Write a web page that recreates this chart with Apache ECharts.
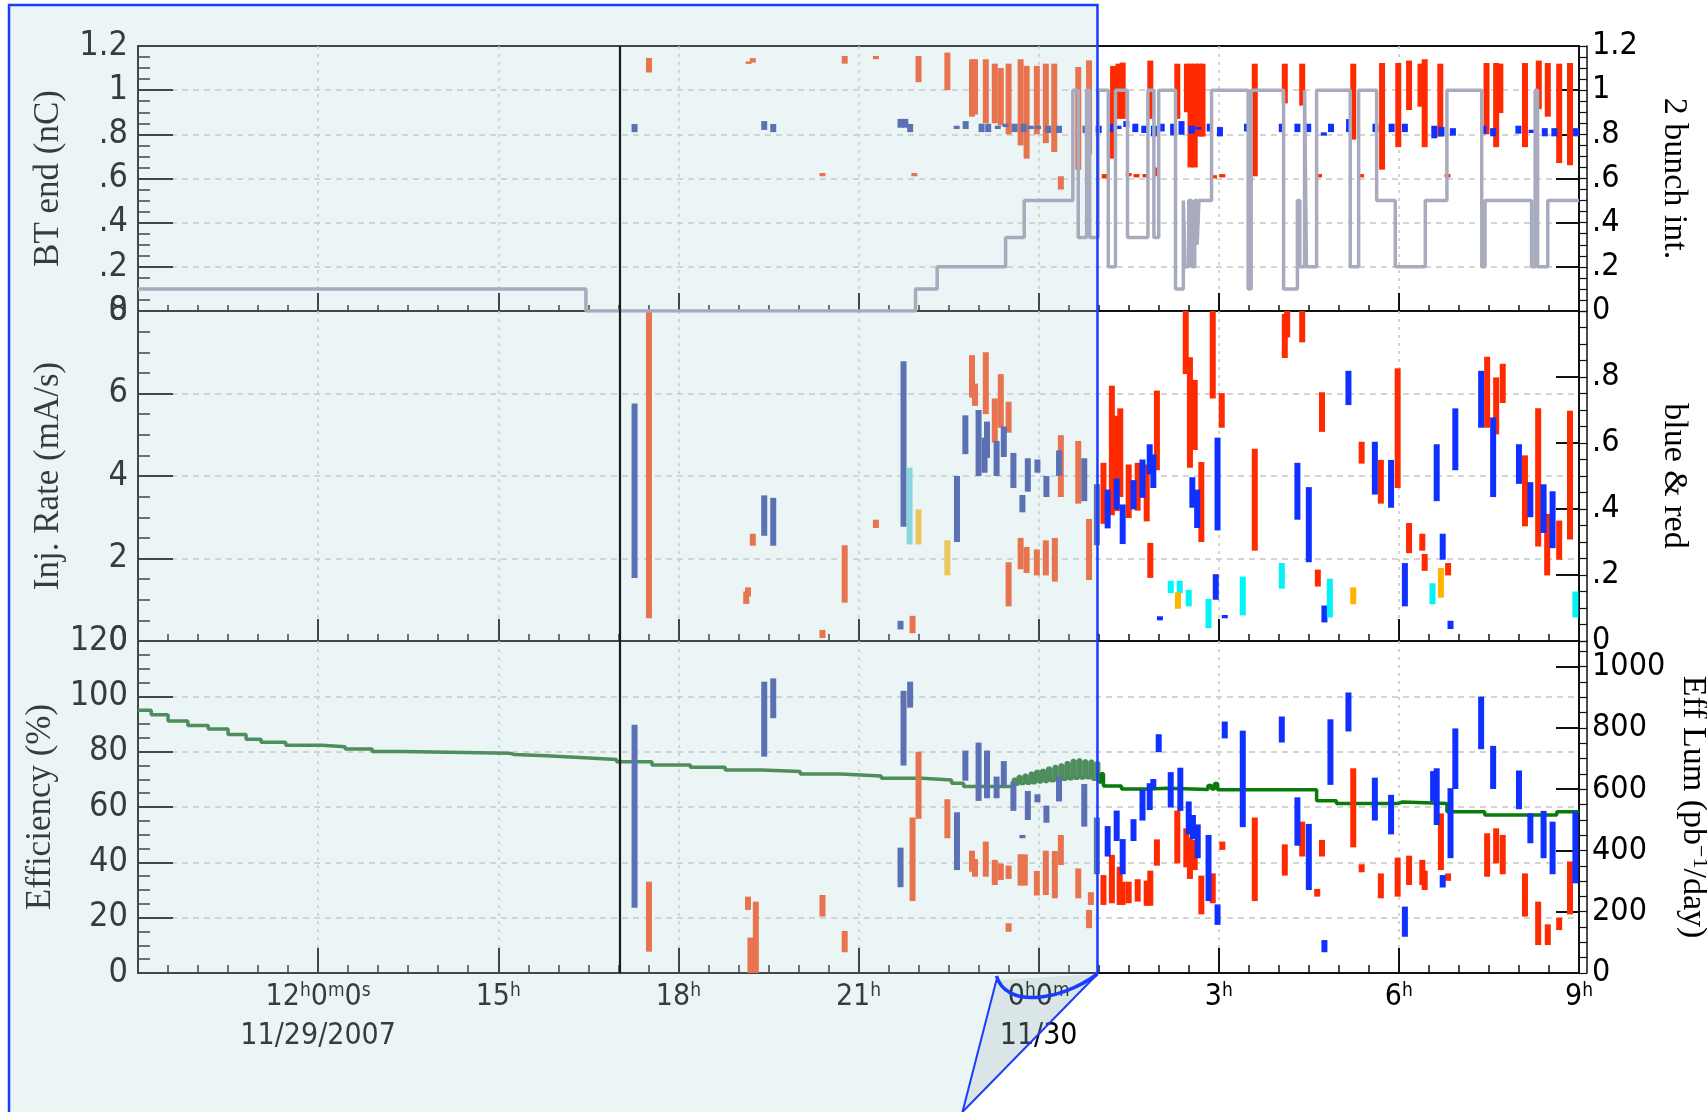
<!DOCTYPE html>
<html><head><meta charset="utf-8">
<script src="https://cdn.jsdelivr.net/npm/echarts@6/dist/echarts.min.js"></script>
<style>html,body{margin:0;padding:0;background:#fff;}#c{width:1707px;height:1112px;}</style>
</head><body><div id="c"></div>
<script>
// ---------- DATA (hours since 0h of 11/29/2007; 24 = 0h 11/30) ----------
const BOUNDARY = 24.98;          // start of the zoomed (bright) region
const markerHours = [17.02];     // black vertical marker

const tickHours = [12, 15, 18, 21, 24, 27, 30, 33];
const tickLabels = ['{n|12}{s|h}{n|0}{s|m}{n|0}{s|s}', '{n|15}{s|h}', '{n|18}{s|h}', '{n|21}{s|h}',
                    '{n|0}{s|h}{n|0}{s|m}', '{n|3}{s|h}', '{n|6}{s|h}', '{n|9}{s|h}'];
const dateLabels = ['11/29/2007', '', '', '', '11/30', '', '', ''];

// top panel: BT end (nC)   [hour, low, high]
const topRed = [
 [17.51,1.08,1.146],[19.17,1.12,1.13],[19.24,1.125,1.145],[20.40,0.61,0.625],[20.77,1.12,1.155],
 [21.29,1.14,1.155],[21.93,0.61,0.625],[22.0,1.036,1.155],[22.48,1.0,1.17],[22.89,0.88,1.14],
 [22.94,0.89,1.14],[23.12,0.85,1.14],[23.27,0.85,1.12],[23.37,0.84,1.10],[23.5,0.80,1.12],
 [23.7,0.75,1.14],[23.8,0.69,1.11],[23.97,0.80,1.11],[24.12,0.76,1.12],[24.26,0.72,1.12],
 [24.37,0.55,0.61],[24.66,0.64,1.105],[24.84,0.71,1.135],[25.1,0.60,0.62],[25.24,0.69,1.11],
 [25.33,0.87,1.12],[25.4,0.87,1.125],[25.5,0.61,0.625],[25.63,0.605,0.62],[25.78,0.605,0.62],
 [25.86,0.87,1.134],[25.97,0.61,0.65],[26.31,0.87,1.12],[26.47,0.90,1.12],[26.53,0.65,1.12],
 [26.6,0.65,1.12],[26.67,0.79,1.12],[26.73,0.79,1.12],[26.92,0.60,0.615],[27.06,0.605,0.62],
 [27.6,0.61,1.12],[28.1,0.94,1.12],[28.39,0.93,1.12],[28.67,0.605,0.62],[29.24,0.776,1.12],
 [29.37,0.605,0.62],[29.72,0.64,1.123],[29.99,0.742,1.123],[30.17,0.91,1.134],[30.36,0.925,1.12],
 [30.43,0.742,1.14],[30.69,0.79,1.12],[30.81,0.605,0.62],[31.46,0.80,1.123],[31.62,0.742,1.123],
 [31.69,0.896,1.12],[32.1,0.742,1.123],[32.33,0.914,1.134],[32.48,0.88,1.123],[32.67,0.67,1.12],
 [32.85,0.66,1.123]
];
const topBlue = [
 [17.27,0.81,0.847],[19.43,0.82,0.86],[19.58,0.81,0.847],[21.7,0.83,0.87],[21.78,0.83,0.87],[21.86,0.81,0.847],
 [22.635,0.824,0.839],[22.785,0.824,0.86],[23.05,0.81,0.848],[23.16,0.81,0.848],[23.32,0.824,0.839],
 [23.45,0.833,0.848],[23.6,0.81,0.848],[23.75,0.81,0.848],[23.87,0.824,0.839],[23.99,0.824,0.839],
 [24.16,0.806,0.839],[24.34,0.806,0.839],[24.78,0.806,0.839],[25.0,0.806,0.839],[25.19,0.81,0.848],
 [25.33,0.824,0.839],[25.46,0.833,0.86],[25.61,0.81,0.848],[25.76,0.806,0.839],[25.92,0.791,0.839],
 [26.05,0.813,0.848],[26.24,0.795,0.848],[26.38,0.798,0.86],[26.55,0.803,0.839],[26.66,0.821,0.833],
 [26.85,0.813,0.848],[27.02,0.791,0.833],[27.47,0.813,0.848],[28.05,0.81,0.848],[28.31,0.81,0.848],
 [28.49,0.81,0.848],[28.75,0.794,0.809],[28.87,0.81,0.848],[29.17,0.81,0.869],[29.61,0.81,0.848],
 [29.88,0.81,0.848],[30.1,0.81,0.848],[30.59,0.782,0.839],[30.71,0.791,0.833],[30.9,0.794,0.828],
 [31.41,0.803,0.839],[31.57,0.791,0.828],[31.99,0.803,0.839],[32.21,0.806,0.821],[32.43,0.791,0.828],
 [32.59,0.791,0.828],[32.95,0.791,0.828]
];
// 2 bunch int. (step line, right axis of top panel)   [hour, value]
const bunchInt = [
 [9,0.1],[16.46,0.0],[21.95,0.1],[22.31,0.2],[23.45,0.333],[23.76,0.5],[24.57,1.0],[24.66,0.333],
 [24.8,1.0],[24.85,0.333],[24.99,1.0],[25.16,0.2],[25.28,1.0],[25.48,0.333],[25.82,1.0],[25.92,0.333],
 [26.0,1.0],[26.28,0.1],[26.41,0.5],[26.44,0.2],[26.5,0.5],[26.55,0.2],[26.6,0.5],[26.64,0.3],
 [26.67,0.5],[26.88,1.0],[27.49,0.1],[27.54,1.0],[28.08,0.1],[28.31,0.5],[28.35,0.2],[28.43,1.0],
 [28.46,0.2],[28.63,1.0],[29.19,0.2],[29.33,1.0],[29.63,0.5],[29.94,0.2],[30.44,0.5],[30.8,1.0],
 [31.38,0.2],[31.435,0.5],[32.21,0.2],[32.27,1.0],[32.31,0.2],[32.48,0.5],[33,0.5]
];

// middle panel: Inj. Rate (mA/s)   [hour, low, high]
const midRed = [
 [17.51,0.55,8.0],[19.13,0.9,1.2],[19.16,1.08,1.3],[19.24,2.31,2.6],[20.40,0.07,0.27],[20.77,0.93,2.32],
 [21.29,2.74,2.94],[21.9,0.19,0.61],[22.89,5.9,6.93],[22.94,5.7,6.24],[23.12,5.5,7.0],[23.27,4.81,5.88],
 [23.37,5.17,6.47],[23.5,5.05,5.8],[23.5,0.84,1.91],[23.7,1.74,2.5],[23.8,1.65,2.28],[23.97,1.59,2.22],
 [24.12,1.59,2.44],[24.27,1.44,2.5],[24.37,3.49,4.99],[24.66,3.33,4.85],[24.84,1.48,2.96],[25.08,2.84,4.32],
 [25.22,3.05,6.19],[25.3,3.15,5.46],[25.36,3.49,5.64],[25.5,2.98,4.28],[25.65,3.16,4.32],[25.8,2.9,4.28],
 [25.86,1.53,2.38],[25.97,4.14,6.07],[26.45,6.47,8.0],[26.52,4.2,6.88],[26.6,4.63,6.33],[26.71,2.4,4.34],
 [26.9,5.88,8.0],[27.05,5.17,6.01],[27.6,2.19,4.66],[28.1,6.86,7.93],[28.14,7.36,8.0],[28.39,7.24,8.0],
 [28.65,1.32,1.73],[28.72,5.07,6.03],[29.38,4.3,4.83],[29.7,3.33,4.39],[29.98,3.71,6.61],[30.17,2.13,2.86],
 [30.39,2.19,2.6],[30.43,1.7,2.11],[30.82,1.59,1.89],[31.47,5.17,6.89],[31.62,5.01,6.39],[31.73,5.77,6.72],
 [32.1,2.78,4.5],[32.32,2.29,5.64],[32.47,1.59,3.08],[32.67,1.97,2.92],[32.85,2.46,5.58]
];
const midBlue = [
 [17.27,1.53,5.76],[19.43,2.55,3.53],[19.58,2.31,3.47],[21.7,0.28,0.49],[21.75,2.77,6.78],[22.64,2.4,4.0],
 [22.78,4.53,5.47],[23.0,4.0,5.6],[23.1,4.08,4.93],[23.14,4.44,5.32],[23.3,4.0,4.85],[23.42,4.46,5.2],
 [23.58,3.71,4.56],[23.73,3.12,3.54],[23.82,3.62,4.43],[23.98,4.08,4.4],[24.13,3.49,4.0],[24.34,4.0,4.62],
 [24.76,3.39,4.43],[24.97,2.32,3.8],[25.15,2.73,3.67],[25.3,3.19,3.94],[25.4,2.35,3.31],[25.58,3.19,3.9],
 [25.73,3.47,4.4],[25.85,4.04,4.77],[25.91,3.71,4.52],[26.02,0.5,0.6],[26.56,3.23,3.97],[26.64,2.74,3.67],
 [26.95,1.0,1.62],[26.98,2.68,4.93],[27.1,0.55,0.63],[28.31,2.94,4.32],[28.5,1.91,3.73],[28.76,0.45,0.86],
 [29.16,5.72,6.55],[29.6,3.55,4.83],[29.87,3.23,4.39],[30.1,0.84,1.89],[30.63,3.39,4.77],[30.73,1.97,2.6],
 [30.86,0.29,0.49],[30.94,4.14,5.64],[31.37,5.17,6.55],[31.57,3.49,5.42],[32.0,3.81,4.77],[32.19,3.0,3.85],
 [32.41,2.62,3.8],[32.56,2.25,3.63]
];
const midCyan = [
 [21.85,2.34,4.2],[26.2,1.16,1.46],[26.35,1.16,1.46],[26.5,0.84,1.24],[26.83,0.31,1.02],[27.4,0.62,1.56],
 [28.05,1.27,1.89],[28.85,0.57,1.51],[30.56,0.89,1.4],[32.94,0.57,1.2]
];
const midOrange = [
 [22.0,2.34,3.19],[22.48,1.59,2.44],[26.32,0.78,1.18],[29.24,0.89,1.3],[30.7,1.05,1.77]
];

// bottom panel: Efficiency (%)   [hour, low, high]
const botRed = [
 [17.51,7.7,33.0],[19.16,22.8,27.6],[19.2,0,12.8],[19.29,0,25.8],[20.40,20.4,28.2],[20.77,7.5,15.2],
 [21.9,26.0,56.2],[22.0,55.7,80.0],[22.48,48.7,62.8],[22.89,36.6,44.2],[22.94,34.8,41.2],[23.12,34.8,47.5],
 [23.27,31.8,40.9],[23.37,33.6,39.6],[23.5,34.0,38.8],[23.5,14.9,18.0],[23.7,31.6,42.9],[23.77,31.6,42.9],
 [23.97,28.0,36.9],[24.12,28.2,44.2],[24.27,27.0,44.1],[24.37,39.0,49.9],[24.66,27.0,37.8],[24.87,24.6,29.2],
 [24.84,16.2,22.8],[25.08,24.6,35.4],[25.22,25.2,42.7],[25.35,24.6,38.4],[25.4,24.6,33.0],[25.5,25.2,33.0],
 [25.65,25.8,33.9],[25.8,24.3,33.4],[25.86,24.3,37.0],[25.97,38.8,48.3],[26.31,39.6,58.7],[26.46,38.2,52.3],
 [26.52,34.0,48.9],[26.6,37.2,48.1],[26.71,21.2,35.2],[26.9,25.2,36.0],[27.06,44.5,47.5],[27.6,26.0,56.2],
 [28.1,35.2,46.5],[28.39,42.1,54.7],[28.64,27.6,30.4],[28.72,42.1,48.1],[29.24,45.4,74.0],[29.38,36.4,39.3],
 [29.7,27.0,36.0],[29.98,27.6,41.7],[30.17,31.8,42.4],[30.39,31.8,40.9],[30.43,30.0,37.0],[30.7,37.2,57.7],
 [30.82,33.3,36.0],[31.47,34.8,50.5],[31.62,39.6,52.3],[31.73,35.7,49.9],[32.1,20.4,36.0],[32.32,10.1,25.8],
 [32.48,10.1,17.6],[32.67,15.5,20.0],[32.85,21.2,40.3]
];
const botBlue = [
 [17.27,23.6,89.7],[19.43,78.2,105.3],[19.58,92.1,106.5],[21.7,31.0,45.3],[21.75,75.0,102.0],[21.86,95.9,105.3],
 [22.64,37.2,58.1],[22.78,69.5,80.4],[23.0,62.2,83.3],[23.14,63.15,80.4],[23.3,63.15,71.0],[23.42,67.7,76.6],
 [23.58,58.6,69.2],[23.73,48.7,49.9],[23.82,55.3,65.8],[23.98,61.7,64.6],[24.13,54.3,60.5],[24.34,62.0,71.0],
 [24.76,52.9,68.3],[24.97,35.7,56.2],[25.15,42.1,53.1],[25.3,47.7,58.7],[25.4,35.7,48.4],[25.58,47.7,55.6],
 [25.73,55.1,66.2],[25.85,58.9,68.6],[25.91,66.5,70.1],[26.0,79.8,86.3],[26.2,59.8,72.6],[26.36,58.6,74.2],
 [26.5,50.1,62.0],[26.57,48.4,57.1],[26.65,41.5,53.7],[26.83,26.0,49.9],[26.98,17.4,24.8],[27.1,84.8,90.9],
 [27.4,52.7,87.6],[28.05,83.3,92.7],[28.31,46.0,63.5],[28.5,30.0,53.9],[28.76,7.5,11.9],[28.86,68.0,91.7],
 [29.16,87.3,101.4],[29.6,55.1,70.6],[29.87,50.1,64.4],[30.1,13.1,24.0],[30.57,62.0,73.0],[30.63,53.5,74.0],
 [30.73,30.9,35.4],[30.86,41.5,66.8],[30.94,66.5,88.4],[31.37,80.9,99.9],[31.57,66.5,82.1],[32.0,59.2,73.2],
 [32.19,46.9,57.7],[32.41,41.5,58.6],[32.56,35.7,54.7],[32.94,32.4,58.3]
];
// efficiency curve (step line)   [hour, %]
const effLine = [
 [9.0,95.0],[9.22,93.3],[9.5,91.1],[9.83,89.5],[10.17,88.2],[10.5,86.2],[10.8,84.5],[11.05,83.4],[11.46,82.3],
 [12.07,81.8],[12.45,81.0],[12.9,80.1],[13.4,79.4],[15.2,79.0],[15.27,78.5],[15.8,77.9],[16.35,77.2],
 [16.97,76.4],[17.56,75.2],[18.2,74.4],[18.78,73.4],[19.39,72.8],[20.03,71.9],[20.7,71.2],[21.38,70.4],
 [22.06,69.8],[22.55,68.6],[22.75,67.4],[23.58,70.0],[23.62,68.2],[23.66,71.0],[23.7,68.5],[23.76,71.5],
 [23.8,68.6],[23.86,72.2],[23.9,68.8],[23.95,72.8],[24.0,69.0],[24.05,73.2],[24.1,69.2],[24.15,74.0],
 [24.2,69.5],[24.26,74.6],[24.3,69.6],[24.36,75.2],[24.4,70.0],[24.46,76.0],[24.5,70.2],[24.56,76.8],
 [24.6,70.4],[24.66,77.0],[24.7,70.5],[24.76,76.6],[24.8,70.6],[24.86,76.5],[24.9,70.0],[24.96,76.0],
 [25.0,69.0],[25.04,72.0],[25.08,67.6],[25.38,66.5],[25.83,66.8],[26.16,66.3],[26.82,67.8],[26.88,66.5],
 [26.93,68.5],[26.98,66.2],[28.63,62.3],[28.96,61.3],[29.99,61.8],[30.06,61.3],[30.8,58.3],[31.43,57.1],
 [32.63,58.3],[33.0,58.3]
];

// ---------- STYLE ----------
const NARROW = '"Liberation Sans Narrow","Arial Narrow","DejaVu Sans Condensed","Liberation Sans",sans-serif';
const SERIF = '"Liberation Serif","DejaVu Serif",serif';
const COL = {
  red:    ['#ff2a00', '#e8734f'],
  blue:   ['#1030ff', '#5c70b4'],
  cyan:   ['#00f4f8', '#8ad6de'],
  orange: ['#ffb400', '#ebc65e'],
  green:  ['#0a7a0a', '#4f8d5c']
};
const GRIDS = [
  {left:138, right:128, top:46,  height:265},
  {left:138, right:128, top:311, height:330},
  {left:138, right:128, top:641, height:332}
];
const dashH = {color:'#c6c8c4', type:[6,5], width:1.5};
const dashV = {color:'#c6c8c4', type:[3,5], width:1.5};

function fmtNum(v){
  const r = Math.round(v*1000)/1000;
  return String(r).replace(/^0\./, '.');
}

const xAxes = [0,1,2].map(i => ({
  type:'value', gridIndex:i, min:9, max:33, interval:3,
  axisLine:{show:false},
  axisTick:{show:true, inside:true, length:[18,22,25][i], lineStyle:{color:'#111', width:2}},
  minorTick:{show:true, splitNumber:6, length:[6,7,8][i], lineStyle:{color:'#111', width:1.5}},
  splitLine:{show:true, showMinLine:false, showMaxLine:false, lineStyle:dashV},
  axisLabel: i === 2 ? {
    show:true, margin:9, color:'#000', fontFamily:NARROW, fontSize:30,
    showMinLabel:false,
    formatter: function(v){
      const k = tickHours.indexOf(Math.round(v));
      if (k < 0) return '';
      let s = tickLabels[k];
      if (dateLabels[k]) s += '\n{d|' + dateLabels[k] + '}';
      return s;
    },
    rich:{
      n:{fontFamily:NARROW, fontSize:30, color:'#000', verticalAlign:'bottom', lineHeight:30},
      s:{fontFamily:NARROW, fontSize:19, color:'#000', verticalAlign:'top', lineHeight:19, padding:[0,0,19,0]},
      d:{fontFamily:NARROW, fontSize:30, color:'#000', lineHeight:48}
    }
  } : {show:false}
}));

function leftY(gi, min, max, interval, name){
  return {
    type:'value', gridIndex:gi, position:'left', min:min, max:max, interval:interval,
    axisLine:{show:false},
    axisTick:{show:true, inside:true, length:35, lineStyle:{color:'#111', width:2}},
    minorTick:{show:true, splitNumber:4, length:12, lineStyle:{color:'#111', width:1.5}},
    splitLine:{show:true, showMinLine:false, showMaxLine:false, lineStyle:dashH},
    axisLabel:{show:true, margin:10, color:'#000', fontFamily:NARROW, fontSize:34, formatter:fmtNum},
    name:name, nameLocation:'middle', nameRotate:90, nameGap:72,
    nameTextStyle:{fontFamily:SERIF, fontSize:35, color:'#000'}
  };
}
function rightY(gi, min, max, interval, name, showMax){
  return {
    type:'value', gridIndex:gi, position:'right', min:min, max:max, interval:interval,
    axisLine:{show:false},
    axisTick:{show:true, inside:true, length:23, lineStyle:{color:'#111', width:2}},
    minorTick:{show:false},
    splitLine:{show:false},
    axisLabel:{show:true, margin:13, color:'#000', fontFamily:NARROW, fontSize:32, formatter:fmtNum, showMaxLabel:showMax},
    name:name, nameLocation:'middle', nameRotate:-90, nameGap:78,
    nameTextStyle:{fontFamily:SERIF, fontSize:34, color:'#000',
      rich:{sup:{fontFamily:SERIF, fontSize:22, color:'#000', verticalAlign:'top', padding:[0,0,14,0]}, t:{fontFamily:SERIF, fontSize:34, color:'#000'}}}
  };
}
function ladderY(gi, min, max, step){
  return {
    type:'value', gridIndex:gi, position:'right', offset:0, min:min, max:max, interval:step,
    axisLine:{show:false}, axisLabel:{show:false}, splitLine:{show:false},
    axisTick:{show:true, inside:false, length:8, lineStyle:{color:'#111', width:1.2}}
  };
}
function railY(gi, min, max){
  return {
    type:'value', gridIndex:gi, position:'right', offset:8, min:min, max:max,
    axisLine:{show:true, lineStyle:{color:'#111', width:1.5}}, axisLabel:{show:false},
    splitLine:{show:false}, axisTick:{show:false}
  };
}

const yAxes = [
  leftY(0, 0, 1.2, 0.2, 'BT end (nC)'),
  rightY(0, 0, 1.2, 0.2, '2 bunch int.', true),
  ladderY(0, 0, 1.2, 0.05), railY(0, 0, 1.2),
  leftY(1, 0, 8, 2, 'Inj. Rate (mA/s)'),
  rightY(1, 0, 1, 0.2, 'blue & red', false),
  ladderY(1, 0, 1, 0.05), railY(1, 0, 1),
  leftY(2, 0, 120, 20, 'Efficiency (%)'),
  rightY(2, 0, 1084, 200, '{t|Eff Lum (pb}{sup|−1}{t|/day)}', false),
  ladderY(2, 0, 1084, 50), railY(2, 0, 1084)
];

function barRender(colors){
  return function(params, api){
    const h = api.value(0), lo = api.value(1), hi = api.value(2);
    const p1 = api.coord([h, hi]);
    const p2 = api.coord([h, lo]);
    const w = 6;
    const cs = params.coordSys;
    const rect = echarts.graphic.clipRectByRect(
      {x:p1[0]-w/2, y:p1[1], width:w, height:Math.max(p2[1]-p1[1], 2.5)},
      {x:cs.x, y:cs.y, width:cs.width, height:cs.height});
    if (!rect) return null;
    return {type:'rect', shape:rect, style:{fill: h < BOUNDARY ? colors[1] : colors[0]}};
  };
}
function bars(data, gi, yi, colors){
  return {
    type:'custom', xAxisIndex:gi, yAxisIndex:yi, data:data,
    encode:{x:0, y:[1,2]}, renderItem:barRender(colors), z:3
  };
}
const marker = {
  silent:true, symbol:['none','none'], label:{show:false},
  lineStyle:{color:'#1a1a1a', width:2.2, type:'solid'},
  data: markerHours.map(h => ({xAxis:h}))
};

// efficiency curve split at the zoom boundary (muted / bright)
const firstRight = effLine.findIndex(p => p[0] >= BOUNDARY);
const effLeft = effLine.slice(0, firstRight + 1);
const effRight = effLine.slice(firstRight);

const series = [
  bars(topRed, 0, 0, COL.red),
  bars(topBlue, 0, 0, COL.blue),
  {type:'line', xAxisIndex:0, yAxisIndex:1, data:bunchInt, step:'end', showSymbol:false, z:4,
   lineStyle:{color:'#a8aabd', width:3.5}, markLine:marker},
  bars(midRed, 1, 4, COL.red),
  bars(midBlue, 1, 4, COL.blue),
  bars(midCyan, 1, 4, COL.cyan),
  bars(midOrange, 1, 4, COL.orange),
  {type:'line', xAxisIndex:1, yAxisIndex:4, data:[[9,-10]], showSymbol:false, lineStyle:{width:0}, markLine:marker},
  {type:'line', xAxisIndex:2, yAxisIndex:8, data:effLeft, step:'end', showSymbol:false, z:2.5,
   lineStyle:{width:3.5, color:COL.green[1]}, markLine:marker},
  {type:'line', xAxisIndex:2, yAxisIndex:8, data:effRight, step:'end', showSymbol:false, z:2.5,
   lineStyle:{width:3.5, color:COL.green[0]}},
  bars(botRed, 2, 8, COL.red),
  bars(botBlue, 2, 8, COL.blue)
];

const option = {
  animation:false,
  backgroundColor:'#ffffff',
  grid: GRIDS.map(g => Object.assign({show:true, borderColor:'#111', borderWidth:2, backgroundColor:'transparent',
         containLabel:false, outerBoundsMode:'none'}, g)),
  xAxis: xAxes,
  yAxis: yAxes,
  series: series
};

const chart = echarts.init(document.getElementById('c'), null, {renderer:'canvas'});
chart.setOption(option);

// zoom-region decoration (overlay + page curl), placed from the axis scale
const bx = chart.convertToPixel({xAxisIndex:0}, BOUNDARY);
const yb = GRIDS[2].top + GRIDS[2].height;
const curlL = [bx-101, yb+7], apex = [bx-135, 1112];
chart.setOption({graphic:[
  {type:'polygon', z:1, silent:true,
   shape:{points:[[9,5],[bx,5],[bx,yb+1],curlL,apex,[9,1112]]},
   style:{fill:'rgba(182,219,219,0.28)'}},
  {type:'polygon', z:1, silent:true,
   shape:{points:[curlL,[bx,yb+1],apex]},
   style:{fill:'rgba(140,175,180,0.33)'}},
  {type:'polyline', z:50, silent:true,
   shape:{points:[[9,1112],[9,5],[bx,5],[bx,yb+1]]},
   style:{stroke:'#1a3cff', lineWidth:2.5, fill:null}},
  {type:'polyline', z:50, silent:true,
   shape:{points:[curlL, apex, [bx,yb+1]]},
   style:{stroke:'#1a3cff', lineWidth:2, fill:null}},
  {type:'bezierCurve', z:50, silent:true,
   shape:{x1:curlL[0], y1:curlL[1]-4, x2:bx, y2:yb+1, cpx1:bx-92, cpy1:yb+34, cpx2:bx-40, cpy2:yb+30},
   style:{stroke:'#1a3cff', lineWidth:3.5, fill:null}}
]});
</script></body></html>
